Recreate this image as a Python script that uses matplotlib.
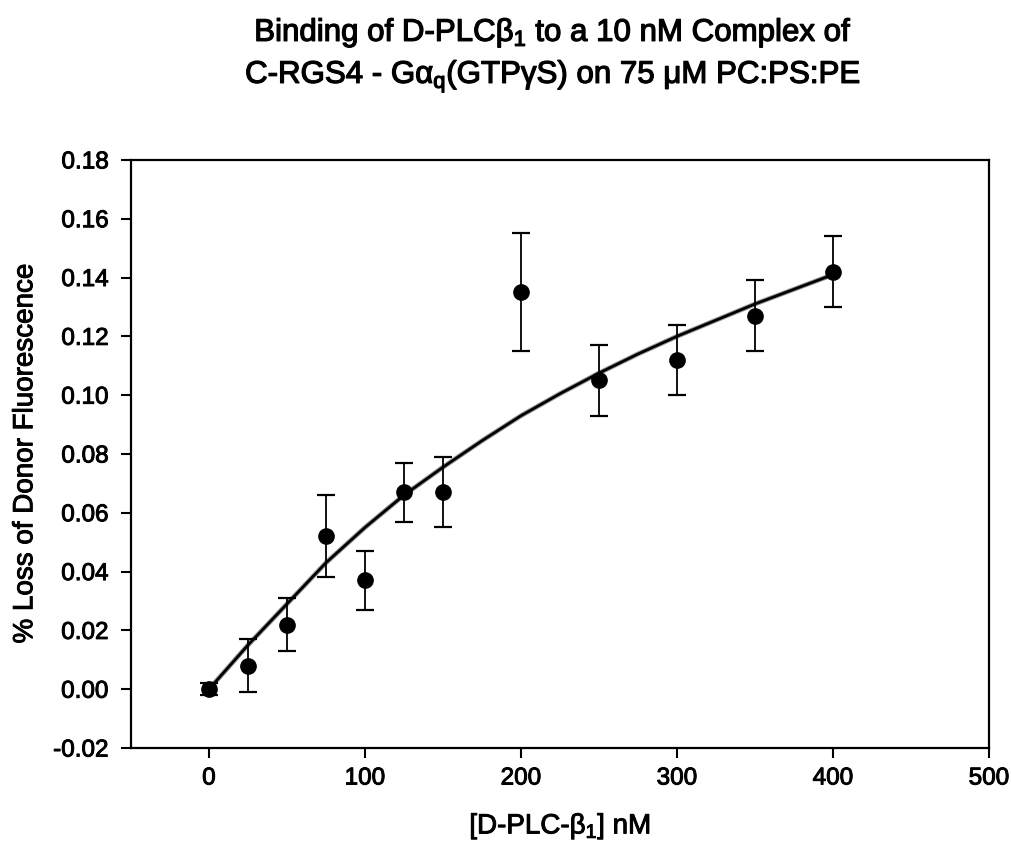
import matplotlib
matplotlib.use("Agg")
import matplotlib.pyplot as plt
import matplotlib.patheffects as pe

plt.rcParams['font.family'] = ['Liberation Sans', 'DejaVu Sans']
plt.rcParams['mathtext.fontset'] = 'custom'
plt.rcParams['mathtext.rm'] = 'Liberation Sans'
plt.rcParams['mathtext.it'] = 'Liberation Sans'

# Data
conc_nM = [0, 25, 50, 75, 100, 125, 150, 200, 250, 300, 350, 400]
loss = [0.000, 0.008, 0.022, 0.052, 0.037, 0.067, 0.067, 0.135, 0.105, 0.112, 0.127, 0.142]
err = [0.002, 0.009, 0.009, 0.014, 0.010, 0.010, 0.012, 0.020, 0.012, 0.012, 0.012, 0.012]

# Fitted curve
fit_x = [0, 25, 50, 75, 100, 125, 150, 175, 200, 225, 250, 275, 300, 325, 350, 375, 400]
fit_y = [0.000, 0.015, 0.029, 0.043, 0.055, 0.066, 0.0755, 0.0845, 0.093, 0.1005,
         0.1075, 0.114, 0.120, 0.1255, 0.131, 0.136, 0.141]

x_ticks = [0, 100, 200, 300, 400, 500]
y_ticks = [-0.02, 0.00, 0.02, 0.04, 0.06, 0.08, 0.10, 0.12, 0.14, 0.16, 0.18]

heavy = [pe.withStroke(linewidth=0.7, foreground='black')]
heavy_title = [pe.withStroke(linewidth=0.9, foreground='black')]

fig = plt.figure(figsize=(10.12, 8.46), dpi=100)
ax = fig.add_axes([0.1294, 0.1158, 0.9773 - 0.1294, 0.811 - 0.1158])

ax.plot(fit_x, fit_y, color='#999999', lw=3.5, zorder=2, solid_capstyle='round')
ax.plot(fit_x, fit_y, color='black', lw=2.0, zorder=3)
ax.errorbar(conc_nM, loss, yerr=err, fmt='o', color='black', markersize=11,
            ecolor='black', elinewidth=1.3, capsize=6.5, capthick=1.6, zorder=4)

ax.set_xlim(-50, 500)
ax.set_ylim(-0.02, 0.18)
ax.set_xticks(x_ticks)
ax.set_yticks(y_ticks)
ax.set_yticklabels([f"{v:.2f}" for v in y_ticks])
ax.tick_params(direction='out', length=7, width=1.5, labelsize=17.5)
ax.tick_params(axis='x', pad=7)
ax.tick_params(axis='y', pad=9)
for lbl in ax.get_xticklabels() + ax.get_yticklabels():
    lbl.set_path_effects(heavy)
for s in ax.spines.values():
    s.set_linewidth(1.6)

ax.set_xlabel(r"[D-PLC-$\beta_1$] nM", fontsize=20, path_effects=heavy)
ax.set_ylabel("% Loss of Donor Fluorescence", fontsize=20, path_effects=heavy)
ax.xaxis.set_label_coords(0.5, -0.108)
ax.yaxis.set_label_coords(-0.108, 0.5)

fig.text(553 / 1012, 1 - 41 / 846, r"Binding of D-PLC$\beta_1$ to a 10 nM Complex of",
         ha='center', va='baseline', fontsize=22.5, path_effects=heavy_title)
fig.text(553 / 1012, 1 - 83 / 846, r"C-RGS4 - G$\alpha_q$(GTP$\gamma$S) on 75 $\mu$M PC:PS:PE",
         ha='center', va='baseline', fontsize=22.5, path_effects=heavy_title)

fig.savefig("out.png", dpi=100)
